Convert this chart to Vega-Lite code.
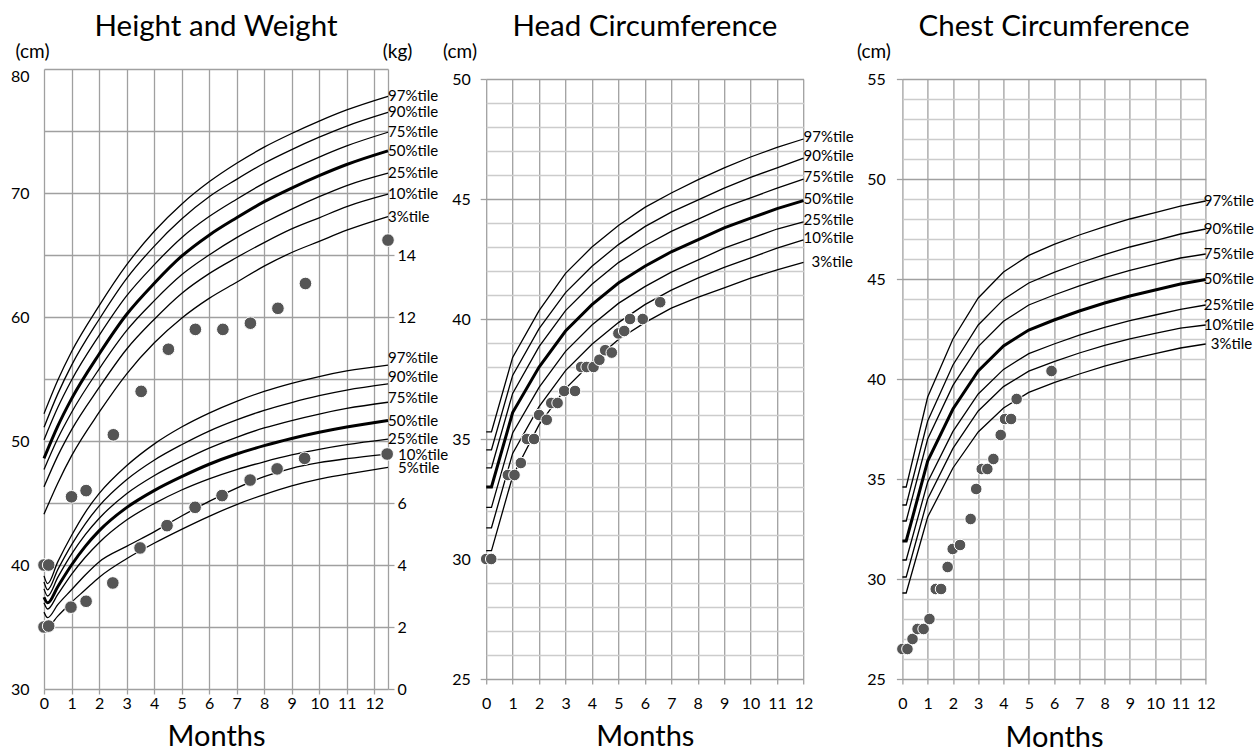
{
  "$schema": "https://vega.github.io/schema/vega-lite/v6.json",
  "background": "white",
  "padding": {"left": 10, "top": 11, "right": 5, "bottom": 0},
  "config": {
    "view": {"stroke": null},
    "font": "Lato",
    "axis": {"labelFont": "Lato", "titleFont": "Lato", "labelColor": "#000", "titleColor": "#000", "titleFontWeight": "normal", "labelFontSize": 16, "labelFlush": false, "labelOverlap": false, "gridColor": "#a0a0a0", "gridWidth": 1.3, "tickColor": "#a0a0a0", "tickWidth": 1.3, "domainColor": "#a0a0a0", "domainWidth": 1.3},
    "title": {"font": "Lato", "fontSize": 29.5, "fontWeight": "normal", "color": "#000", "anchor": "middle", "frame": "group", "baseline": "alphabetic"}
  },
  "bounds": "flush",
  "center": true,
  "spacing": 98.2,
  "datasets": {
    "height": [
      {"m": 0, "97%tile": 52.2, "90%tile": 51.1, "75%tile": 50.1, "50%tile": 48.6, "25%tile": 47.7, "10%tile": 46.3, "3%tile": 44.1},
      {"m": 0.5, "97%tile": 54.9, "90%tile": 53.8, "75%tile": 52.7, "50%tile": 51.2, "25%tile": 50.2, "10%tile": 48.8, "3%tile": 46.6},
      {"m": 1, "97%tile": 57.2, "90%tile": 56.1, "75%tile": 54.9, "50%tile": 53.4, "25%tile": 52.3, "10%tile": 50.9, "3%tile": 48.8},
      {"m": 2, "97%tile": 60.9, "90%tile": 59.8, "75%tile": 58.5, "50%tile": 57.0, "25%tile": 55.8, "10%tile": 54.3, "3%tile": 52.3},
      {"m": 3, "97%tile": 64.2, "90%tile": 63.1, "75%tile": 61.7, "50%tile": 60.2, "25%tile": 58.9, "10%tile": 57.4, "3%tile": 55.4},
      {"m": 4, "97%tile": 66.9, "90%tile": 65.7, "75%tile": 64.2, "50%tile": 62.7, "25%tile": 61.3, "10%tile": 59.8, "3%tile": 57.9},
      {"m": 5, "97%tile": 69.1, "90%tile": 67.9, "75%tile": 66.4, "50%tile": 64.9, "25%tile": 63.4, "10%tile": 61.9, "3%tile": 59.9},
      {"m": 6, "97%tile": 70.9, "90%tile": 69.7, "75%tile": 68.1, "50%tile": 66.6, "25%tile": 65.0, "10%tile": 63.5, "3%tile": 61.5},
      {"m": 7, "97%tile": 72.4, "90%tile": 71.1, "75%tile": 69.5, "50%tile": 68.0, "25%tile": 66.4, "10%tile": 64.8, "3%tile": 62.8},
      {"m": 8, "97%tile": 73.7, "90%tile": 72.4, "75%tile": 70.8, "50%tile": 69.3, "25%tile": 67.6, "10%tile": 66.0, "3%tile": 64.1},
      {"m": 9, "97%tile": 74.8, "90%tile": 73.5, "75%tile": 71.9, "50%tile": 70.4, "25%tile": 68.7, "10%tile": 67.1, "3%tile": 65.2},
      {"m": 10, "97%tile": 75.8, "90%tile": 74.5, "75%tile": 72.9, "50%tile": 71.4, "25%tile": 69.7, "10%tile": 68.0, "3%tile": 66.1},
      {"m": 11, "97%tile": 76.7, "90%tile": 75.4, "75%tile": 73.8, "50%tile": 72.3, "25%tile": 70.6, "10%tile": 68.9, "3%tile": 67.0},
      {"m": 12.5, "97%tile": 77.8, "90%tile": 76.5, "75%tile": 74.9, "50%tile": 73.4, "25%tile": 71.6, "10%tile": 69.9, "3%tile": 68.1}
    ],
    "weight": [
      {"m": 0, "97%tile": 3.65, "90%tile": 3.45, "75%tile": 3.23, "50%tile": 2.96, "25%tile": 2.78, "10%tile": 2.48, "5%tile": 2.16},
      {"m": 0.13, "97%tile": 3.4, "90%tile": 3.2, "75%tile": 3.0, "50%tile": 2.78, "25%tile": 2.58, "10%tile": 2.3, "5%tile": 2.02},
      {"m": 0.5, "97%tile": 4.1, "90%tile": 3.85, "75%tile": 3.6, "50%tile": 3.3, "25%tile": 3.05, "10%tile": 2.72, "5%tile": 2.35},
      {"m": 1, "97%tile": 4.95, "90%tile": 4.65, "75%tile": 4.35, "50%tile": 4.0, "25%tile": 3.7, "10%tile": 3.2, "5%tile": 2.8},
      {"m": 1.5, "97%tile": 5.7, "90%tile": 5.33, "75%tile": 4.98, "50%tile": 4.6, "25%tile": 4.25, "10%tile": 3.68, "5%tile": 3.2},
      {"m": 2, "97%tile": 6.3, "90%tile": 5.9, "75%tile": 5.5, "50%tile": 5.1, "25%tile": 4.72, "10%tile": 4.1, "5%tile": 3.6},
      {"m": 3, "97%tile": 7.2, "90%tile": 6.75, "75%tile": 6.3, "50%tile": 5.85, "25%tile": 5.45, "10%tile": 4.6, "5%tile": 4.2},
      {"m": 4, "97%tile": 7.9, "90%tile": 7.38, "75%tile": 6.88, "50%tile": 6.4, "25%tile": 5.98, "10%tile": 5.07, "5%tile": 4.7},
      {"m": 5, "97%tile": 8.45, "90%tile": 7.88, "75%tile": 7.35, "50%tile": 6.85, "25%tile": 6.42, "10%tile": 5.58, "5%tile": 5.15},
      {"m": 6, "97%tile": 8.9, "90%tile": 8.32, "75%tile": 7.77, "50%tile": 7.25, "25%tile": 6.78, "10%tile": 6.05, "5%tile": 5.57},
      {"m": 7, "97%tile": 9.28, "90%tile": 8.68, "75%tile": 8.12, "50%tile": 7.58, "25%tile": 7.08, "10%tile": 6.48, "5%tile": 5.95},
      {"m": 8, "97%tile": 9.6, "90%tile": 8.99, "75%tile": 8.42, "50%tile": 7.85, "25%tile": 7.33, "10%tile": 6.85, "5%tile": 6.27},
      {"m": 9, "97%tile": 9.86, "90%tile": 9.24, "75%tile": 8.66, "50%tile": 8.08, "25%tile": 7.55, "10%tile": 7.12, "5%tile": 6.55},
      {"m": 10, "97%tile": 10.08, "90%tile": 9.46, "75%tile": 8.87, "50%tile": 8.28, "25%tile": 7.73, "10%tile": 7.3, "5%tile": 6.77},
      {"m": 11, "97%tile": 10.26, "90%tile": 9.64, "75%tile": 9.05, "50%tile": 8.45, "25%tile": 7.88, "10%tile": 7.43, "5%tile": 6.93},
      {"m": 12.5, "97%tile": 10.45, "90%tile": 9.84, "75%tile": 9.25, "50%tile": 8.66, "25%tile": 8.06, "10%tile": 7.58, "5%tile": 7.15}
    ],
    "height_pts": [
      {"m": 0, "v": 40.0}, {"m": 0.17, "v": 40.0}, {"m": 1.0, "v": 45.5}, {"m": 1.53, "v": 46.0}, {"m": 2.52, "v": 50.5}, {"m": 3.53, "v": 54.0}, {"m": 4.52, "v": 57.4}, {"m": 5.5, "v": 59.0}, {"m": 6.5, "v": 59.0}, {"m": 7.5, "v": 59.5}, {"m": 8.5, "v": 60.7}, {"m": 9.5, "v": 62.7}, {"m": 12.5, "v": 66.2}
    ],
    "weight_pts": [
      {"m": 0, "v": 2.0}, {"m": 0.17, "v": 2.03}, {"m": 0.98, "v": 2.64}, {"m": 1.53, "v": 2.83}, {"m": 2.5, "v": 3.42}, {"m": 3.49, "v": 4.55}, {"m": 4.47, "v": 5.27}, {"m": 5.49, "v": 5.86}, {"m": 6.47, "v": 6.24}, {"m": 7.49, "v": 6.74}, {"m": 8.47, "v": 7.1}, {"m": 9.47, "v": 7.44}, {"m": 12.47, "v": 7.58}
    ],
    "head": [
      {"m": 0, "97%tile": 35.3, "90%tile": 34.55, "75%tile": 33.8, "50%tile": 33.0, "25%tile": 32.15, "10%tile": 31.3, "3%tile": 30.35},
      {"m": 0.2, "97%tile": 35.3, "90%tile": 34.55, "75%tile": 33.8, "50%tile": 33.0, "25%tile": 32.15, "10%tile": 31.3, "3%tile": 30.35},
      {"m": 1, "97%tile": 38.4, "90%tile": 37.65, "75%tile": 36.9, "50%tile": 36.1, "25%tile": 35.25, "10%tile": 34.4, "3%tile": 33.45},
      {"m": 2, "97%tile": 40.35, "90%tile": 39.6, "75%tile": 38.85, "50%tile": 38.0, "25%tile": 37.15, "10%tile": 36.35, "3%tile": 35.6},
      {"m": 3, "97%tile": 41.9, "90%tile": 41.1, "75%tile": 40.35, "50%tile": 39.5, "25%tile": 38.65, "10%tile": 37.85, "3%tile": 37.1},
      {"m": 4, "97%tile": 43.0, "90%tile": 42.2, "75%tile": 41.45, "50%tile": 40.6, "25%tile": 39.75, "10%tile": 38.95, "3%tile": 38.2},
      {"m": 5, "97%tile": 43.9, "90%tile": 43.1, "75%tile": 42.35, "50%tile": 41.5, "25%tile": 40.65, "10%tile": 39.85, "3%tile": 39.15},
      {"m": 6, "97%tile": 44.65, "90%tile": 43.85, "75%tile": 43.05, "50%tile": 42.2, "25%tile": 41.35, "10%tile": 40.6, "3%tile": 39.85},
      {"m": 7, "97%tile": 45.25, "90%tile": 44.45, "75%tile": 43.65, "50%tile": 42.8, "25%tile": 41.95, "10%tile": 41.2, "3%tile": 40.45},
      {"m": 8, "97%tile": 45.8, "90%tile": 44.95, "75%tile": 44.15, "50%tile": 43.3, "25%tile": 42.45, "10%tile": 41.7, "3%tile": 40.9},
      {"m": 9, "97%tile": 46.3, "90%tile": 45.45, "75%tile": 44.65, "50%tile": 43.8, "25%tile": 42.95, "10%tile": 42.15, "3%tile": 41.3},
      {"m": 10, "97%tile": 46.75, "90%tile": 45.9, "75%tile": 45.05, "50%tile": 44.2, "25%tile": 43.35, "10%tile": 42.55, "3%tile": 41.7},
      {"m": 11, "97%tile": 47.15, "90%tile": 46.3, "75%tile": 45.45, "50%tile": 44.6, "25%tile": 43.75, "10%tile": 42.95, "3%tile": 42.05},
      {"m": 12, "97%tile": 47.5, "90%tile": 46.7, "75%tile": 45.83, "50%tile": 44.93, "25%tile": 44.05, "10%tile": 43.3, "3%tile": 42.36}
    ],
    "head_pts": [
      {"m": 0, "v": 30.0}, {"m": 0.19, "v": 30.0}, {"m": 0.82, "v": 33.5}, {"m": 1.07, "v": 33.5}, {"m": 1.31, "v": 34.0}, {"m": 1.54, "v": 35.0}, {"m": 1.81, "v": 35.0}, {"m": 2.0, "v": 36.0}, {"m": 2.29, "v": 35.8}, {"m": 2.46, "v": 36.5}, {"m": 2.7, "v": 36.5}, {"m": 2.95, "v": 37.0}, {"m": 3.36, "v": 37.0}, {"m": 3.59, "v": 38.0}, {"m": 3.8, "v": 38.0}, {"m": 4.06, "v": 38.0}, {"m": 4.28, "v": 38.3}, {"m": 4.5, "v": 38.7}, {"m": 4.75, "v": 38.6}, {"m": 5.0, "v": 39.4}, {"m": 5.22, "v": 39.5}, {"m": 5.44, "v": 40.0}, {"m": 5.92, "v": 40.0}, {"m": 6.58, "v": 40.7}
    ],
    "chest": [
      {"m": 0, "97%tile": 34.6, "90%tile": 33.7, "75%tile": 32.9, "50%tile": 31.9, "25%tile": 30.95, "10%tile": 30.1, "3%tile": 29.3},
      {"m": 0.15, "97%tile": 34.6, "90%tile": 33.7, "75%tile": 32.9, "50%tile": 31.9, "25%tile": 30.95, "10%tile": 30.1, "3%tile": 29.3},
      {"m": 1, "97%tile": 39.1, "90%tile": 37.9, "75%tile": 37.0, "50%tile": 35.9, "25%tile": 34.85, "10%tile": 34.0, "3%tile": 33.1},
      {"m": 2, "97%tile": 42.0, "90%tile": 40.7, "75%tile": 39.68, "50%tile": 38.5, "25%tile": 37.38, "10%tile": 36.53, "3%tile": 35.55},
      {"m": 3, "97%tile": 44.05, "90%tile": 42.7, "75%tile": 41.62, "50%tile": 40.4, "25%tile": 39.25, "10%tile": 38.4, "3%tile": 37.35},
      {"m": 4, "97%tile": 45.35, "90%tile": 43.98, "75%tile": 42.89, "50%tile": 41.65, "25%tile": 40.48, "10%tile": 39.62, "3%tile": 38.55},
      {"m": 5, "97%tile": 46.18, "90%tile": 44.8, "75%tile": 43.7, "50%tile": 42.45, "25%tile": 41.27, "10%tile": 40.39, "3%tile": 39.33},
      {"m": 6, "97%tile": 46.73, "90%tile": 45.33, "75%tile": 44.2, "50%tile": 42.95, "25%tile": 41.75, "10%tile": 40.87, "3%tile": 39.82},
      {"m": 7, "97%tile": 47.2, "90%tile": 45.8, "75%tile": 44.66, "50%tile": 43.4, "25%tile": 42.19, "10%tile": 41.3, "3%tile": 40.25},
      {"m": 8, "97%tile": 47.62, "90%tile": 46.22, "75%tile": 45.07, "50%tile": 43.8, "25%tile": 42.58, "10%tile": 41.68, "3%tile": 40.64},
      {"m": 9, "97%tile": 48.0, "90%tile": 46.6, "75%tile": 45.43, "50%tile": 44.15, "25%tile": 42.92, "10%tile": 42.01, "3%tile": 40.98},
      {"m": 10, "97%tile": 48.32, "90%tile": 46.92, "75%tile": 45.74, "50%tile": 44.45, "25%tile": 43.2, "10%tile": 42.28, "3%tile": 41.27},
      {"m": 11, "97%tile": 48.64, "90%tile": 47.25, "75%tile": 46.05, "50%tile": 44.75, "25%tile": 43.48, "10%tile": 42.54, "3%tile": 41.55},
      {"m": 12, "97%tile": 48.9, "90%tile": 47.5, "75%tile": 46.25, "50%tile": 44.98, "25%tile": 43.7, "10%tile": 42.7, "3%tile": 41.75}
    ],
    "chest_pts": [
      {"m": 0, "v": 26.5}, {"m": 0.2, "v": 26.5}, {"m": 0.4, "v": 27.0}, {"m": 0.6, "v": 27.5}, {"m": 0.84, "v": 27.5}, {"m": 1.07, "v": 28.0}, {"m": 1.32, "v": 29.5}, {"m": 1.53, "v": 29.5}, {"m": 1.79, "v": 30.6}, {"m": 1.99, "v": 31.5}, {"m": 2.28, "v": 31.7}, {"m": 2.7, "v": 33.0}, {"m": 2.92, "v": 34.5}, {"m": 3.14, "v": 35.5}, {"m": 3.36, "v": 35.5}, {"m": 3.6, "v": 36.0}, {"m": 3.89, "v": 37.2}, {"m": 4.06, "v": 38.0}, {"m": 4.3, "v": 38.0}, {"m": 4.52, "v": 39.0}, {"m": 5.9, "v": 40.4}
    ]
  },
  "hconcat": [
    {
      "width": 344,
      "height": 620,
      "title": {"text": "Height and Weight", "offset": 0},
      "resolve": {"scale": {"y": "independent"}},
      "layer": [
        {
          "encoding": {
            "x": {"field": "m", "type": "quantitative", "scale": {"domain": [0, 12.5], "nice": false, "zero": false},
              "axis": {"values": [0,1,2,3,4,5,6,7,8,9,10,11,12], "grid": true, "domain": false, "tickSize": 5, "labelPadding": 1, "title": "Months", "titleFontSize": 29, "titleY": 56.7, "titleBaseline": "alphabetic"}},
            "y": {"field": "v", "type": "quantitative", "scale": {"domain": [30, 80], "nice": false, "zero": false},
              "axis": {"orient": "left", "values": [30,35,40,45,50,55,60,65,70,75,80], "labelExpr": "datum.value % 10 === 0 ? datum.label : ''", "labelOffset": {"condition": {"test": "datum.value === 80", "value": 7}, "value": 0}, "grid": true, "domain": false, "ticks": false, "tickSize": 0, "labelPadding": 15, "title": "(cm)", "titleAngle": 0, "titleFontSize": 19, "titleAlign": "center", "titleBaseline": "alphabetic", "titleX": -12, "titleY": -12}}
          },
          "layer": [
            {"data": {"name": "height"}, "transform": [{"fold": ["97%tile","90%tile","75%tile","50%tile","25%tile","10%tile","3%tile"], "as": ["p", "v"]}],
              "mark": {"type": "line", "interpolate": "monotone", "color": "black"},
              "encoding": {"detail": {"field": "p"}, "strokeWidth": {"condition": {"test": "datum.p === '50%tile'", "value": 3}, "value": 1.3}}},
            {"data": {"name": "height_pts"}, "mark": {"type": "circle", "size": 160, "color": "#555555", "opacity": 1, "stroke": "white", "strokeWidth": 1}},
            {"data": {"name": "height"}, "transform": [{"fold": ["97%tile","90%tile","75%tile","50%tile","25%tile","10%tile","3%tile"], "as": ["p", "v"]}, {"filter": "datum.m === 12.5"}],
              "mark": {"type": "text", "align": "left", "baseline": "middle", "fontSize": 15, "font": "Lato", "color": "black"},
              "encoding": {"text": {"field": "p"}}}
          ]
        },
        {
          "encoding": {
            "x": {"field": "m", "type": "quantitative", "scale": {"domain": [0, 12.5], "nice": false, "zero": false},
              "axis": {"values": [0,1,2,3,4,5,6,7,8,9,10,11,12], "grid": true, "domain": false, "tickSize": 5, "labelPadding": 1, "title": "Months", "titleFontSize": 29, "titleY": 56.7, "titleBaseline": "alphabetic"}},
            "y": {"field": "v", "type": "quantitative", "scale": {"domain": [0, 20], "nice": false, "zero": false},
              "axis": {"orient": "right", "values": [0,2,4,6,12,14], "grid": false, "domain": true, "tickSize": 6, "labelPadding": 3, "title": "(kg)", "titleAngle": 0, "titleFontSize": 19, "titleAlign": "center", "titleBaseline": "alphabetic", "titleX": 9, "titleY": -12}}
          },
          "layer": [
            {"data": {"name": "weight"}, "transform": [{"fold": ["97%tile","90%tile","75%tile","50%tile","25%tile","10%tile","5%tile"], "as": ["p", "v"]}],
              "mark": {"type": "line", "interpolate": "monotone", "color": "black"},
              "encoding": {"detail": {"field": "p"}, "strokeWidth": {"condition": {"test": "datum.p === '50%tile'", "value": 3}, "value": 1.3}}},
            {"data": {"name": "weight_pts"}, "mark": {"type": "circle", "size": 160, "color": "#555555", "opacity": 1, "stroke": "white", "strokeWidth": 1}},
            {"data": {"name": "weight"}, "transform": [{"fold": ["97%tile","90%tile"], "as": ["p", "v"]}, {"filter": "datum.m === 12.5"}],
              "mark": {"type": "text", "align": "left", "baseline": "middle", "fontSize": 15, "font": "Lato", "color": "black", "dy": -7},
              "encoding": {"text": {"field": "p"}}},
            {"data": {"name": "weight"}, "transform": [{"fold": ["75%tile"], "as": ["p", "v"]}, {"filter": "datum.m === 12.5"}],
              "mark": {"type": "text", "align": "left", "baseline": "middle", "fontSize": 15, "font": "Lato", "color": "black", "dy": -4},
              "encoding": {"text": {"field": "p"}}},
            {"data": {"name": "weight"}, "transform": [{"fold": ["50%tile","25%tile"], "as": ["p", "v"]}, {"filter": "datum.m === 12.5"}],
              "mark": {"type": "text", "align": "left", "baseline": "middle", "fontSize": 15, "font": "Lato", "color": "black"},
              "encoding": {"text": {"field": "p"}}},
            {"data": {"name": "weight"}, "transform": [{"fold": ["10%tile","5%tile"], "as": ["p", "v"]}, {"filter": "datum.m === 12.5"}],
              "mark": {"type": "text", "align": "left", "baseline": "middle", "fontSize": 15, "font": "Lato", "color": "black", "dx": 10, "dy": 1},
              "encoding": {"text": {"field": "p"}}}
          ]
        }
      ]
    },
    {
      "width": 317.3,
      "height": 600,
      "title": {"text": "Head Circumference", "offset": 0},
      "encoding": {
        "x": {"field": "m", "type": "quantitative", "scale": {"domain": [0, 12], "nice": false, "zero": false},
          "axis": {"values": [0,1,2,3,4,5,6,7,8,9,10,11,12], "grid": true, "domain": false, "tickSize": 5, "labelPadding": 11, "title": "Months", "titleFontSize": 29, "titleY": 66.7, "titleBaseline": "alphabetic"}},
        "y": {"field": "v", "type": "quantitative", "scale": {"domain": [25, 50], "nice": false, "zero": false},
          "axis": {"values": [25,26,27,28,29,30,31,32,33,34,35,36,37,38,39,40,41,42,43,44,45,46,47,48,49,50], "labelExpr": "datum.value % 5 === 0 ? datum.label : ''", "grid": true, "gridColor": {"condition": {"test": "datum.value % 5 === 0", "value": "#a0a0a0"}, "value": "#cccccc"}, "domain": false, "tickSize": 6, "tickOpacity": {"condition": {"test": "datum.value % 5 === 0", "value": 1}, "value": 0}, "labelPadding": 10, "title": "(cm)", "titleAngle": 0, "titleFontSize": 19, "titleAlign": "center", "titleBaseline": "alphabetic", "titleX": -26.7, "titleY": -22}}
      },
      "layer": [
        {"data": {"name": "head"}, "transform": [{"fold": ["97%tile","90%tile","75%tile","50%tile","25%tile","10%tile","3%tile"], "as": ["p", "v"]}],
          "mark": {"type": "line", "interpolate": "linear", "color": "black"},
          "encoding": {"detail": {"field": "p"}, "strokeWidth": {"condition": {"test": "datum.p === '50%tile'", "value": 3}, "value": 1.3}}},
        {"data": {"name": "head_pts"}, "mark": {"type": "circle", "size": 135, "color": "#555555", "opacity": 1, "stroke": "white", "strokeWidth": 1}},
        {"data": {"name": "head"}, "transform": [{"fold": ["97%tile","90%tile","75%tile","50%tile","25%tile","10%tile"], "as": ["p", "v"]}, {"filter": "datum.m === 12"}],
          "mark": {"type": "text", "align": "left", "baseline": "middle", "fontSize": 15, "font": "Lato", "color": "black", "dy": -2},
          "encoding": {"text": {"field": "p"}}},
        {"data": {"name": "head"}, "transform": [{"fold": ["3%tile"], "as": ["p", "v"]}, {"filter": "datum.m === 12"}],
          "mark": {"type": "text", "align": "left", "baseline": "middle", "fontSize": 15, "font": "Lato", "color": "black", "dx": 8},
          "encoding": {"text": {"field": "p"}}}
      ]
    },
    {
      "width": 303.3,
      "height": 600,
      "title": {"text": "Chest Circumference", "offset": 0},
      "encoding": {
        "x": {"field": "m", "type": "quantitative", "scale": {"domain": [0, 12], "nice": false, "zero": false},
          "axis": {"values": [0,1,2,3,4,5,6,7,8,9,10,11,12], "grid": true, "domain": false, "tickSize": 5, "labelPadding": 11, "title": "Months", "titleFontSize": 29, "titleY": 67.7, "titleBaseline": "alphabetic"}},
        "y": {"field": "v", "type": "quantitative", "scale": {"domain": [25, 55], "nice": false, "zero": false},
          "axis": {"values": [25,26,27,28,29,30,31,32,33,34,35,36,37,38,39,40,41,42,43,44,45,46,47,48,49,50,51,52,53,54,55], "labelExpr": "datum.value % 5 === 0 ? datum.label : ''", "grid": true, "gridColor": {"condition": {"test": "datum.value % 5 === 0", "value": "#a0a0a0"}, "value": "#cccccc"}, "domain": false, "tickSize": 6, "tickOpacity": {"condition": {"test": "datum.value % 5 === 0", "value": 1}, "value": 0}, "labelPadding": 11, "title": "(cm)", "titleAngle": 0, "titleFontSize": 19, "titleAlign": "center", "titleBaseline": "alphabetic", "titleX": -29, "titleY": -22}}
      },
      "layer": [
        {"data": {"name": "chest"}, "transform": [{"fold": ["97%tile","90%tile","75%tile","50%tile","25%tile","10%tile","3%tile"], "as": ["p", "v"]}],
          "mark": {"type": "line", "interpolate": "linear", "color": "black"},
          "encoding": {"detail": {"field": "p"}, "strokeWidth": {"condition": {"test": "datum.p === '50%tile'", "value": 3}, "value": 1.3}}},
        {"data": {"name": "chest_pts"}, "mark": {"type": "circle", "size": 135, "color": "#555555", "opacity": 1, "stroke": "white", "strokeWidth": 1}},
        {"data": {"name": "chest"}, "transform": [{"fold": ["97%tile","90%tile","75%tile","50%tile","25%tile","10%tile"], "as": ["p", "v"]}, {"filter": "datum.m === 12"}],
          "mark": {"type": "text", "align": "left", "baseline": "middle", "fontSize": 15, "font": "Lato", "color": "black", "dx": -2},
          "encoding": {"text": {"field": "p"}}},
        {"data": {"name": "chest"}, "transform": [{"fold": ["3%tile"], "as": ["p", "v"]}, {"filter": "datum.m === 12"}],
          "mark": {"type": "text", "align": "left", "baseline": "middle", "fontSize": 15, "font": "Lato", "color": "black", "dx": 5},
          "encoding": {"text": {"field": "p"}}}
      ]
    }
  ]
}
